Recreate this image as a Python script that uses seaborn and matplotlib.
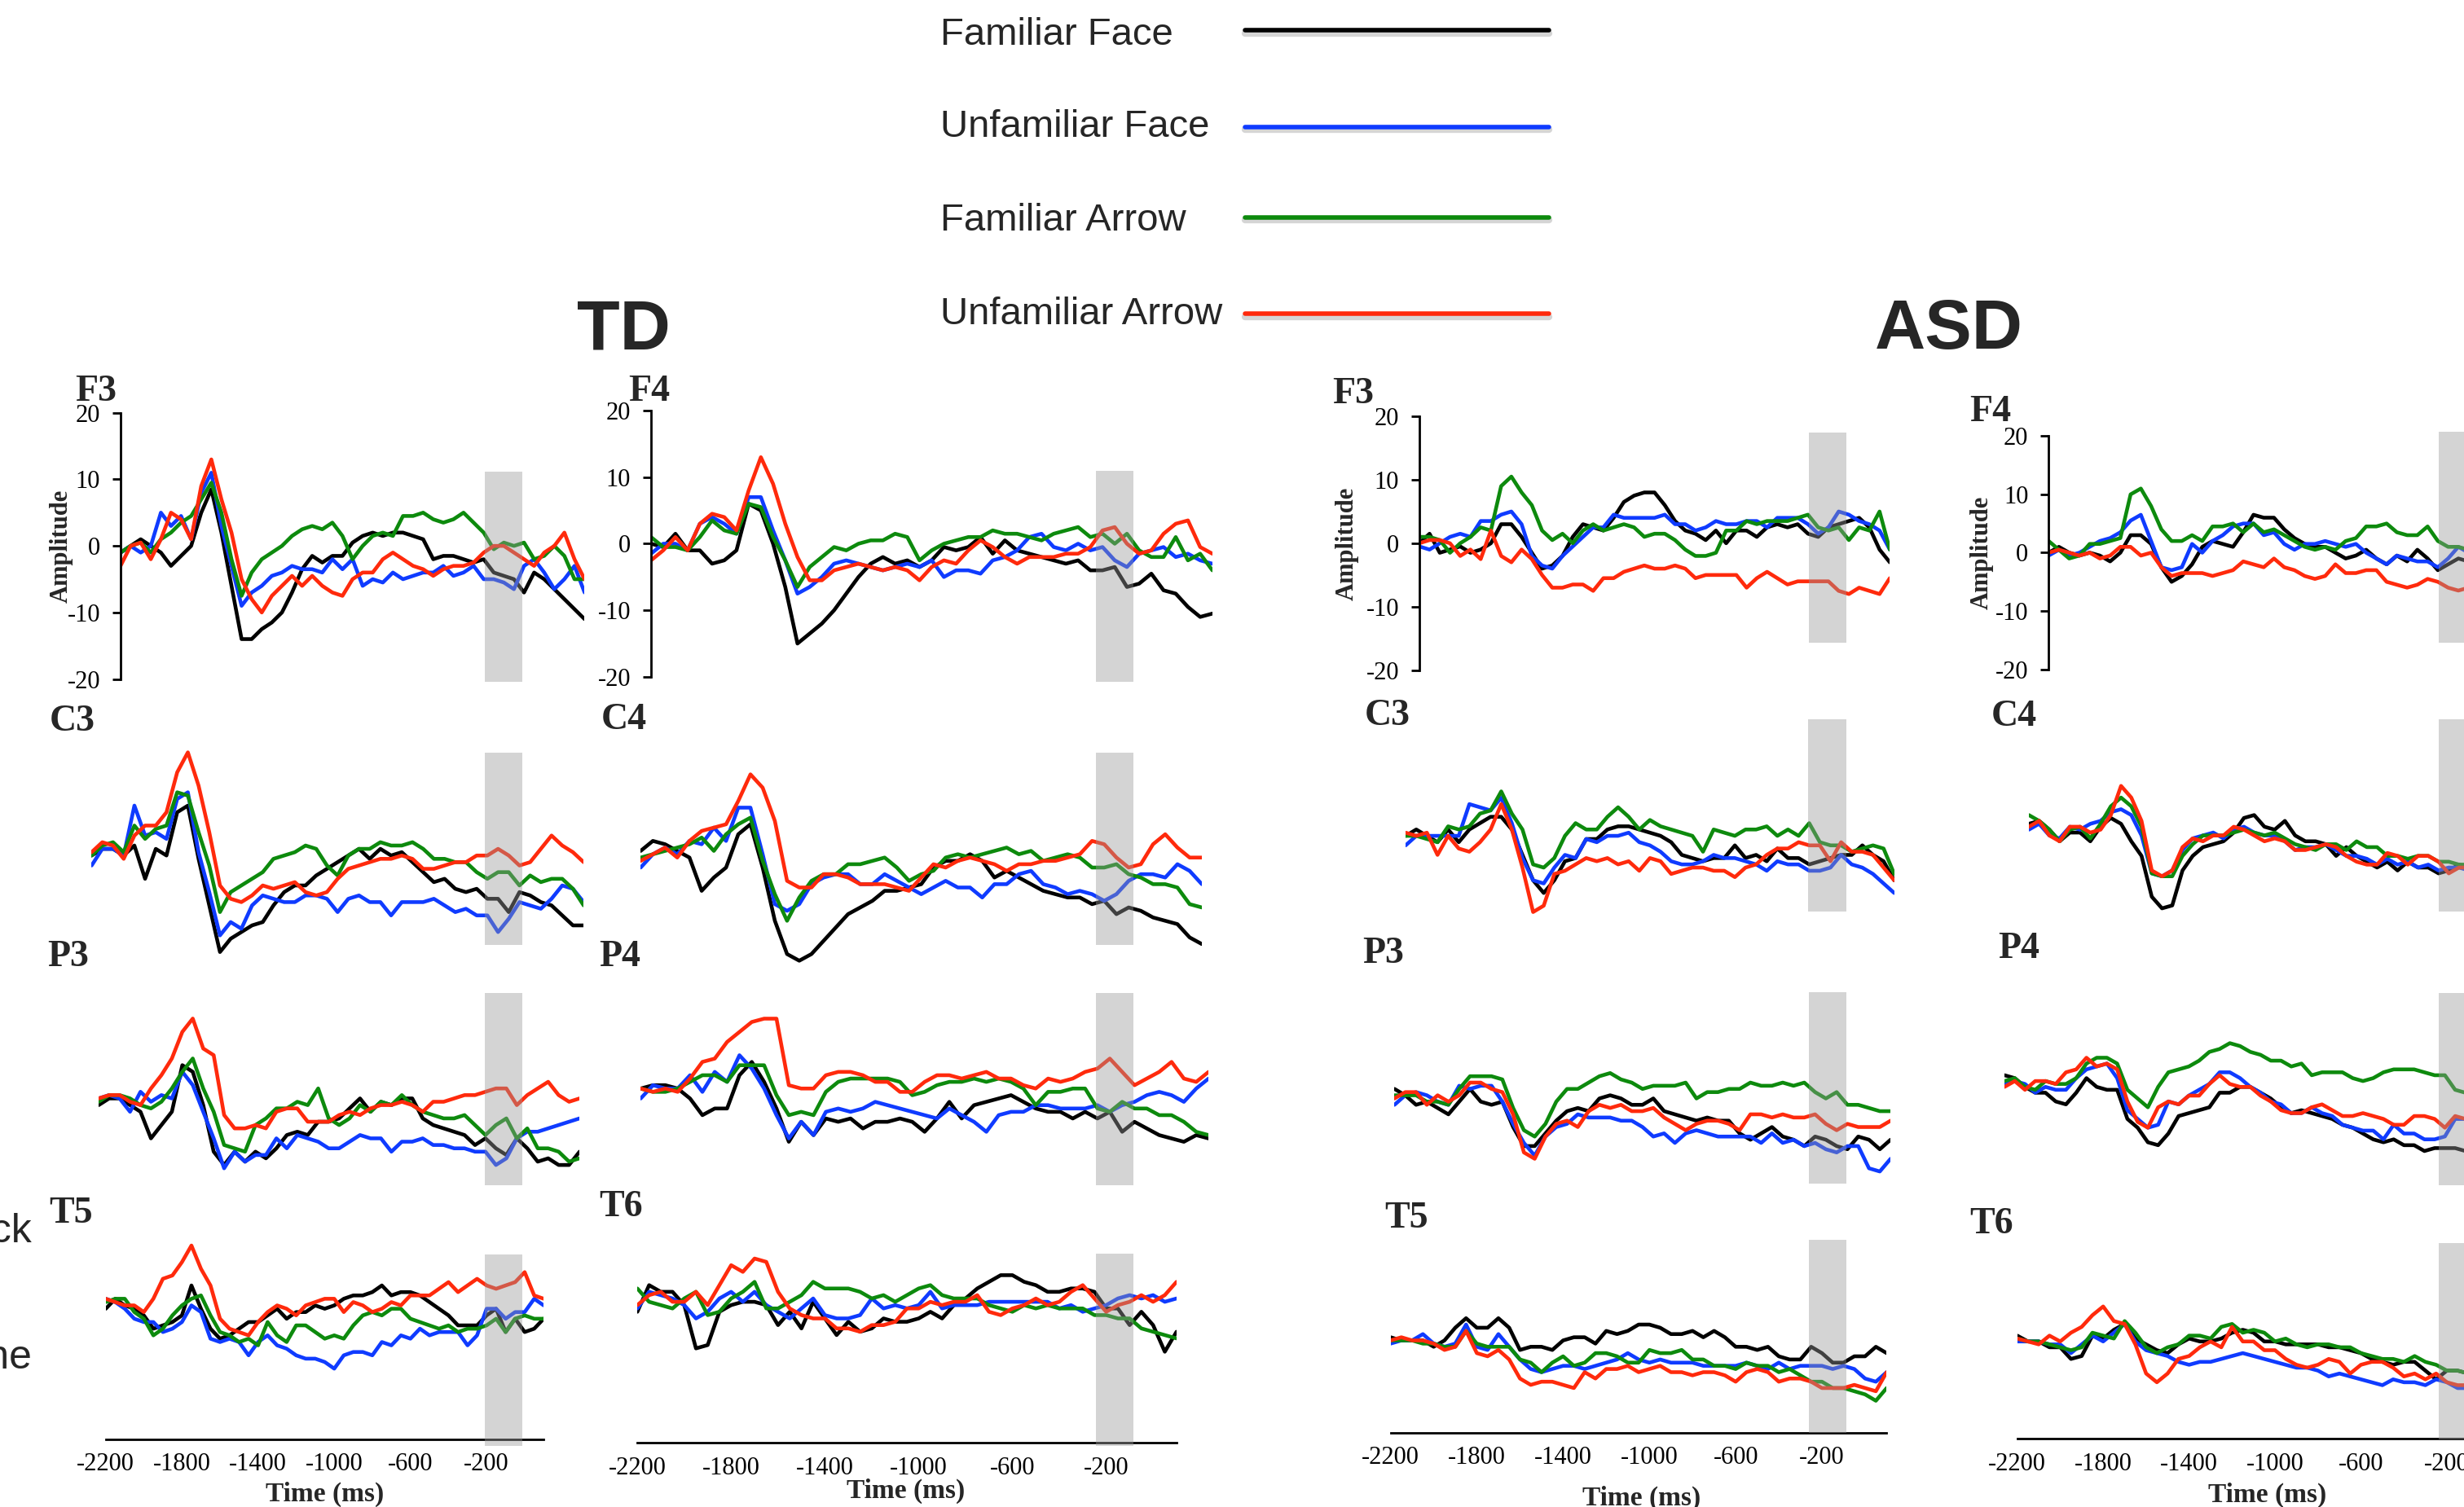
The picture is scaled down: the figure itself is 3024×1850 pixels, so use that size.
import pandas as pd
import matplotlib.pyplot as plt
from matplotlib.lines import Line2D
import seaborn as sns

# ---------------- data ----------------
time_ms = [-2200, -2150, -2100, -2050, -2000, -1950, -1900, -1850, -1800, -1750,
           -1700, -1650, -1600, -1550, -1500, -1450, -1400, -1350, -1300, -1250,
           -1200, -1150, -1100, -1050, -1000, -950, -900, -850, -800, -750,
           -700, -650, -600, -550, -500, -450, -400, -350, -300, -250,
           -200, -150, -100, -50, 0, 50, 100]

conditions = ["Familiar Face", "Unfamiliar Face", "Familiar Arrow", "Unfamiliar Arrow"]
colors = ["#000000", "#0f3bff", "#0d8a0d", "#ff2a0c"]

# TD group
td_f3_ff = [-1, 0, 1, 0, -1, -3, -1.5, 0, 5, 8.5,
            2, -6, -14, -14, -12.5, -11.5, -10, -7, -3.5, -1.5,
            -2.5, -1.5, -1.5, 0.5, 1.5, 2, 1.5, 2, 2, 1.5,
            1, -2, -1.5, -1.5, -2, -2.5, -2, -4, -4.5, -5,
            -7, -4, -5, -6.5, -8, -9.5, -11]
td_f3_uf = [-1, 0, -1, 0, 5, 3, 4.5, 1, 8, 11,
            3, -3, -9, -7, -6, -4.5, -4, -3, -3.5, -3.5,
            -4, -2, -3.5, -2, -6, -5, -5.5, -4, -5, -4.5,
            -4, -4, -3, -4.5, -4, -3, -5, -5, -5.5, -6.5,
            -3, -2, -4, -6.5, -5, -3, -7]
td_f3_fa = [-1, 0, 0.5, -1, 1, 2, 3.5, 4.5, 7, 9.5,
            5, -2, -7.5, -4, -2, -1, 0, 1.5, 2.5, 3,
            2.5, 3.5, 1.5, -2, 0, 1.5, 2, 1.5, 4.5, 4.5,
            5, 4, 3.5, 4, 5, 3.5, 2, -0.5, 0.5, 0,
            0.5, -2, -1.5, 0, -1.5, -5, -5]
td_f3_ua = [-3, 0, 0.5, -2, 1, 5, 4, 1, 9, 13,
            7, 2, -5, -8, -10, -7.5, -6, -4.5, -6, -4.5,
            -6, -7, -7.5, -5, -4, -4, -2, -1, -2, -3,
            -3.5, -4.5, -3.5, -3, -3, -2.5, -1, 0, 0, -1,
            -2, -3, -1, 0, 2, -2, -5]

td_c3_ff = [-0.5, 0.5, 0.5, -0.5, 1, -4, 0.5, -0.5, 6, 7,
            -1, -8, -15, -13, -12, -11, -10.5, -8, -6, -5,
            -5, -3.5, -2.5, -1.5, -0.5, 0.5, -1, 0.5, -0.5, 0,
            -1.5, -3, -4.5, -4, -5.5, -6, -5.5, -7, -7, -9,
            -6, -6.5, -7.5, -8, -9.5, -11, -11]
td_c3_uf = [-2, 0.5, 0.5, -0.5, 7, 2.5, 3, 2, 8, 9,
            0, -6, -12.5, -10.5, -11.5, -8, -6.5, -7, -7.5, -7.5,
            -6.5, -6.5, -7, -9, -7, -6.5, -7.5, -7.5, -9.5, -7.5,
            -7.5, -7.5, -7, -8, -9, -8.5, -9.5, -9.5, -12, -10,
            -7.5, -8, -8.5, -7, -5, -5.5, -7.5]
td_c3_fa = [-0.5, 1, 1.5, 0, 4, 2, 3.5, 4, 9, 8.5,
            3, -2, -9, -6, -5, -4, -3, -1, -0.5, 0,
            1, 0.5, -2, -3.5, -0.5, 0.5, 0.5, 1.5, 1, 1,
            1.5, 0.5, -1, -1, -1.5, -1.5, -3, -4, -3, -3,
            -5, -3.5, -4.5, -4, -4, -5.5, -8]
td_c3_ua = [0, 1.5, 1, -1, 2.5, 4, 4, 6, 12, 15,
            10, 3, -5, -7, -7.5, -6.5, -5, -5.5, -5, -4.5,
            -6, -6.5, -6, -4, -2.5, -2, -1.5, -1, -1, -0.5,
            -1, -2.5, -2.5, -2, -1.5, -1.5, -0.5, -0.5, 0.5, -0.5,
            -2, -1.5, 0.5, 2.5, 1, 0, -1.5]

td_p3_ff = [-1, 0, 0, -1, -2, -6, -4, -2, 5, 4,
            -1, -8, -10, -8, -9.5, -8, -9, -7.5, -5.5, -5,
            -5.5, -3.5, -3.5, -3, -1.5, 0, -2, -0.5, -1, 0,
            0, -3, -4, -4.5, -5, -5.5, -7, -6, -7.5, -8.5,
            -6, -7.5, -9.5, -9, -10, -10, -8]
td_p3_uf = [0, 0.5, 0, -2, 1, -0.5, 0.5, 0, 4, 2,
            -2, -6, -10.5, -8, -9.5, -8.5, -8.5, -6, -7.5, -5.5,
            -6, -6.5, -7.5, -7.5, -6.5, -5.5, -6, -6, -8, -6.5,
            -6.5, -6, -7, -7, -7.5, -7.5, -8, -8, -10, -9,
            -6, -5, -5, -4.5, -4, -3.5, -3]
td_p3_fa = [-0.5, 0.5, 0.5, 0, -1, -1.5, -0.5, 1.5, 4, 6,
            1.5, -2, -7, -7.5, -8, -4, -3, -1.5, -1.5, -0.5,
            -1, 1.5, -3, -4, -3, -1, -2, -0.5, -1, 0.5,
            -1, -2, -2.5, -3, -3, -2.5, -4, -5.5, -4, -3,
            -6, -4.5, -7.5, -7.5, -8, -9.5, -9]
td_p3_ua = [0, 0.5, 0.5, -0.5, -1, 1.5, 3.5, 6, 10, 12,
            7.5, 6.5, -2.5, -4.5, -4.5, -4, -4.5, -2, -1.5, -1.5,
            -3.5, -3.5, -3.5, -2.5, -2, -2.5, -1.5, -1, -1, -0.5,
            -1, -2, -0.5, -0.5, 0, 0.5, 0.5, 1, 1.5, 1.5,
            -1, 0.5, 1.5, 2.5, 0.5, -0.5, 0]

td_t5_ff = [-1, 0.5, -0.5, -1, -2, -4, -3.5, -3, -2, 2.5,
            -1, -4, -5.5, -5, -4, -3, -3, -2, -1, -2.5,
            -1.5, -1.5, -0.5, -1, -0.5, 0.5, 1, 1, 1.5, 2.5,
            1, 1.5, 1.5, 1, 0, -1, -2, -3.5, -3.5, -3.5,
            -2, -1, -4.5, -2.5, -4.5, -4, -2.5]
td_t5_uf = [0.5, 0, -1, -2.5, -3, -3, -4.5, -4, -3, -0.5,
            -1.5, -5.5, -6, -5.5, -6, -8, -6, -5, -6.5, -7,
            -8, -8.5, -8.5, -9, -10, -8, -7.5, -7.5, -8, -6,
            -6.5, -5, -5.5, -4, -5, -4.5, -4.5, -4.5, -6.5, -5,
            -1, -1, -2.5, -1.5, -1.5, 0.5, -0.5]
td_t5_fa = [0, 0.5, 0.5, -1.5, -2.5, -5, -4, -2, -0.5, 0.5,
            1, -2, -4.5, -5, -6, -5.5, -6.5, -3, -5, -6,
            -3.5, -3.5, -4.5, -5.5, -5, -5.5, -3.5, -2, -1.5, -2,
            -1, -1, -2.5, -3, -3.5, -4, -3.5, -4.5, -4, -4,
            -3.5, -2.5, -4.5, -2.5, -2, -2.5, -2.5]
td_t5_ua = [0.5, 0, -0.5, -0.5, -1.5, 0.5, 3.5, 4, 6, 8.5,
            5, 2.5, -2.5, -4, -4.5, -5, -3, -1.5, -0.5, -1,
            -2, -0.5, 0, 0.5, 0.5, -1.5, 0, -0.5, -1.5, -1,
            0, -0.5, 1, 1, 1, 2, 3, 1.5, 2.5, 3.5,
            2.5, 2, 2.5, 3, 4.5, 1, 0.5]

td_f4_ff = [0, -0.5, 1.5, -1, -1, -3, -2.5, -1, 6, 5,
            0, -6.5, -15, -13.5, -12, -10, -7.5, -5, -3, -2,
            -3, -2.5, -3.5, -2.5, -0.5, -1, -0.5, 1, -1.5, 0.5,
            -1, -1.5, -2, -2.5, -3, -2.5, -4, -4, -3.5, -6.5,
            -6, -4.5, -7, -7.5, -9.5, -11, -10.5]
td_f4_uf = [-1.5, 0, 0, -1, 3, 4, 3, 1.5, 7, 7,
            2, -2.5, -7.5, -6.5, -5, -3, -2.5, -3, -3.5, -4,
            -3.5, -3, -3.5, -2.5, -5, -4, -4, -4.5, -2.5, -2,
            -1, 1, 1.5, -0.5, -1, 0, -1, -0.5, -2.5, -3.5,
            -1.5, -1, -0.5, -2, -1.5, -2.5, -3]
td_f4_fa = [1, -0.5, -0.5, -1, 1, 3.5, 2, 1.5, 6, 5.5,
            1, -2.5, -6.5, -3.5, -2, -0.5, -1, 0, 0.5, 0.5,
            1.5, 1, -2.5, -1, 0, 0.5, 1, 1, 2, 1.5,
            1.5, 1, 0.5, 1.5, 2, 2.5, 1, 1.5, 0, 1.5,
            -1, -2, -2, 1, -2.5, -1.5, -4]
td_f4_ua = [-2.5, -1, 1, -1, 3, 4.5, 4, 2, 8, 13,
            9, 3, -2, -5.5, -5.5, -4, -3.5, -3, -3.5, -4,
            -3.5, -4, -5.5, -3.5, -2.5, -3, -1, 0.5, -0.5, -2,
            -3, -2, -2, -2, -1.5, -1.5, -0.5, 2, 2.5, 0,
            -1.5, -1, 1.5, 3, 3.5, -0.5, -1.5]

td_c4_ff = [0.5, 2, 1.5, 0.5, -0.5, -5.5, -3.5, -2, 3, 4.5,
            -2, -10, -15, -16, -15, -13, -11, -9, -8, -7,
            -5.5, -5.5, -5, -4.5, -2, -1, -1, 0, -1, -3.5,
            -2.5, -3.5, -4.5, -5.5, -6, -6.5, -6.5, -7.5, -7, -9,
            -8, -8.5, -9.5, -10, -10.5, -12.5, -13.5]
td_c4_uf = [-2, 0, 1, 0, 2, 1.5, 4, 2, 7, 7,
            0, -7.5, -8.5, -7.5, -4.5, -3.5, -3, -3, -4.5, -4.5,
            -3, -4, -5, -6, -5, -4, -5, -5, -6.5, -4.5,
            -4.5, -3, -2.5, -4.5, -5, -6, -5.5, -6, -7, -6,
            -4, -3, -3, -3.5, -1.5, -2.5, -4.5]
td_c4_fa = [-0.5, 0, 0.5, 1, 1.5, 2.5, 0.5, 3, 4.5, 5.5,
            -1, -6, -10, -6.5, -4, -3, -3, -1.5, -1.5, -1,
            -0.5, -2, -4, -3, -2.5, -0.5, 0, -0.5, 0, 0.5,
            1, 0, 0.5, -1, -0.5, 0, -0.5, -2, -2, -1.5,
            -3, -3.5, -4.5, -4.5, -5, -7.5, -8]
td_c4_ua = [-1, 0, 1, -0.5, 2, 3.5, 4, 4.5, 8, 12,
            10, 5, -4, -5, -5, -3, -3, -3.5, -4.5, -4.5,
            -4.5, -5, -5.5, -3.5, -1.5, -2, -1, -0.5, -1, -1.5,
            -2.5, -1.5, -1.5, -1, -1, -0.5, 0, 2, 1.5, -0.5,
            -2, -1.5, 1.5, 3, 1, -0.5, -0.5]

td_p4_ff = [0, 0.5, 0.5, 0, -1.5, -4, -3, -3, 2, 4,
            1, -3, -8, -5, -7, -4.5, -5, -4.5, -6, -5,
            -5, -4.5, -5, -6.5, -4.5, -2, -4.5, -2.5, -2, -1.5,
            -1, -2, -3, -3.5, -3.5, -4.5, -3.5, -4.5, -3.5, -6.5,
            -5, -6, -7, -7.5, -8, -7, -7.5]
td_p4_uf = [-1.5, 0.5, 0, 0, 2, -0.5, 2.5, 1, 5, 3,
            0, -4, -7.5, -5, -7, -3.5, -3, -3.5, -3, -2,
            -2.5, -3, -3.5, -4, -4.5, -3, -4, -5, -6.5, -4,
            -3.5, -3.5, -2.5, -2.5, -3, -3, -3, -2.5, -3.5, -2.5,
            -2, -1, -0.5, -1, -2, 0, 1.5]
td_p4_fa = [0, -0.5, -0.5, 0, 1, 2, 2, 1, 3.5, 3.5,
            3.5, -1, -4, -3.5, -4, -0.5, 1, 1.5, 1.5, 1.5,
            1.5, 1, -1, -0.5, 0.5, 1, 1, 1.5, 1, 1.5,
            1, 0, -2.5, -0.5, -0.5, 0, 0, -3, -3.5, -2,
            -3, -3, -4, -4, -5, -6.5, -7]
td_p4_ua = [0, -0.5, 0, -0.5, 1.5, 4, 4.5, 7, 8.5, 10,
            10.5, 10.5, 0.5, 0, 0, 2, 2.5, 2.5, 2, 1,
            1, -0.5, -0.5, 1, 2, 2, 1.5, 2, 2.5, 1.5,
            1.5, 0.5, 0, 1.5, 1, 1.5, 2.5, 3, 4.5, 2.5,
            0.5, 1.5, 2.5, 4, 1.5, 1, 2.5]

td_t6_ff = [-2, 2, 1, 1, -1, -7.5, -7, -2, -1, -0.5,
            -0.5, -1, -4, -2, -4.5, -0.5, -3, -5.5, -3.5, -5,
            -4.5, -3, -3.5, -3.5, -3, -2, -3, -1, 0, 1.5,
            2.5, 3.5, 3.5, 2.5, 2, 1, 1, 1.5, 1.5, 1,
            -1.5, -1.5, -4, -2, -4, -8, -5]
td_t6_uf = [-1.5, 1, 0.5, 0, -1, -3, -2, 0, 1, -0.5,
            1, -1, -2, -3, -1.5, 0, -2.5, -3, -3, -2.5,
            0, -1.5, -1, -1.5, -1, 1, -1.5, -1, -1, -1,
            -0.5, -0.5, -0.5, -0.5, -0.5, -0.5, -1.5, -1, -2, -1.5,
            -1, 0, 0.5, 0, 0.5, -0.5, 0]
td_t6_fa = [1.5, -0.5, -1, -1.5, 0, 1, -2.5, -2, 0, 1,
            2.5, -1.5, -1.5, -0.5, 0.5, 2.5, 1.5, 1.5, 1.5, 1,
            0, 0.5, -0.5, 0.5, 1.5, 2, 0.5, 0, 0, 0,
            -1, -1.5, -2, -1, -1.5, -1, -1.5, -1.5, -1.5, -2.5,
            -2.5, -3, -3, -4.5, -5, -5.5, -6]
td_t6_ua = [-1, 0.5, 1, -0.5, -0.5, 1, -1, 2, 5, 4,
            6, 5.5, 1, -1.5, -2.5, -3, -3, -4.5, -4.5, -5,
            -4, -4, -3.5, -1.5, -1.5, -0.5, -1, -0.5, -0.5, 0.5,
            -2, -2.5, -1.5, -1, 0, -1, -0.5, 1, 2, 0,
            -2, -1, -0.5, 0.5, -0.5, 0.5, 2.5]

# ASD group
asd_f3_ff = [0, 1.5, -1.5, -1, -0.5, -1.5, -1, 0, 3, 3,
             1, -1.5, -4, -3.5, -2, 1, 3, 2.5, 2, 4,
             6.5, 7.5, 8, 8, 6, 3.5, 2, 1.5, 0.5, 2,
             0, 2, 2, 1, 2.5, 3, 2.5, 3, 1.5, 1,
             2.5, 3, 3.5, 4, 2.5, -1, -3]
asd_f3_uf = [-0.5, -1, 0, 1, 1.5, 1, 3.5, 3.5, 4.5, 5,
             3, -2, -3.5, -4, -2, -0.5, 1, 2.5, 2.5, 4.5,
             4, 4, 4, 4, 4.5, 3, 3, 2, 2.5, 3.5,
             3, 3, 3.5, 3.5, 2.5, 4, 4, 4, 3, 1.5,
             2.5, 5, 4.5, 3.5, 3, 2, -1]
asd_f3_fa = [1, 1, 0.5, -1.5, 0, 1, 2.5, 2, 9, 10.5,
             8, 6, 2, 0.5, 1.5, 0, 2, 3, 2, 2.5,
             3, 2.5, 1, 1.5, 1.5, 0.5, -1, -2, -2, -1.5,
             2, 2, 3.5, 3, 3.5, 3.5, 3.5, 4, 4.5, 2.5,
             2, 2.5, 0.5, 2.5, 2, 5, -1]
asd_f3_ua = [0, 0.5, 0.5, 0, -2, -1, -2.5, 2, -2, -3,
             -1, -2.5, -5, -7, -7, -6.5, -6.5, -7.5, -5.5, -5.5,
             -4.5, -4, -3.5, -4, -4, -3.5, -4, -5.5, -5, -5,
             -5, -5, -7, -5.5, -4.5, -5.5, -6.5, -6, -6, -6,
             -6, -7.5, -8, -7, -7.5, -8, -5.5]

asd_c3_ff = [0, 1, 0, -1, 1, -1, 1, 2, 3, 3,
             1, -3, -7, -9, -7, -4, -3.5, -0.5, -0.5, 1,
             1.5, 1.5, 1, 0.5, 0, -1, -3, -3.5, -4, -3.5,
             -3.5, -1.5, -3.5, -3, -4, -2, -3.5, -3.5, -4.5, -4,
             -3.5, -3, -3, -1.5, -3, -4, -7]
asd_c3_uf = [-1.5, 0, 0, 0, 0, 0, 5, 4.5, 4, 6,
             2, -3.5, -7, -7.5, -5, -3, -3.5, -0.5, -1, 0,
             0, 0.5, -1, -1.5, -2.5, -4, -4.5, -4.5, -4, -3,
             -3.5, -3.5, -4, -4.5, -5.5, -4, -4.5, -4.5, -5.5, -5.5,
             -5, -3, -4.5, -5, -6, -7.5, -9]
asd_c3_fa = [0, 0, -0.5, -1, 1.5, 1, 1.5, 3.5, 4, 7,
             3.5, 1, -4.5, -5, -3.5, 0, 2, 1, 1, 3,
             4.5, 3, 1, 2.5, 1.5, 1, 0.5, 0, -2.5, 1,
             0.5, 0, 1, 1, 1.5, 0, 1, 0, 2, -1,
             -1.5, -1.5, -2.5, -2, -1.5, -2, -6]
asd_c3_ua = [0.5, 0, 0.5, -3, 0, -2, -2.5, -1, 1, 5,
             1, -5, -12, -11, -6, -5.5, -4.5, -3.5, -4, -3.5,
             -4.5, -4, -5.5, -3.5, -4, -6, -5.5, -5, -5, -5.5,
             -5.5, -6.5, -5, -4.5, -3, -2, -2, -1, -1.5, -1.5,
             -4, -1, -2.5, -2.5, -3, -5, -7]

asd_p3_ff = [1, 0, -1.5, -1, -2, -3, -1, 1, -1, -1.5,
             -1, -5, -8, -8, -6, -4, -2.5, -2, -2.5, -0.5,
             0, -0.5, -1.5, -1.5, -0.5, -2.5, -3, -3.5, -4, -3.5,
             -4, -4, -6, -7, -6, -5, -6.5, -7, -8, -6.5,
             -7, -8, -8.5, -6.5, -7, -8.5, -7]
asd_p3_uf = [-1.5, 0, 0.5, 0, -1, -1.5, 1.5, 1, 1.5, 1.5,
             -1, -4.5, -7.5, -9.5, -6.5, -5, -4.5, -3, -3.5, -3.5,
             -3.5, -4, -4, -5, -6.5, -6, -7.5, -6, -5.5, -6,
             -6.5, -6.5, -6.5, -6.5, -7.5, -6, -7.5, -7, -8, -7.5,
             -8.5, -9, -8, -8, -11.5, -12, -10]
asd_p3_fa = [0, 0, 0, -1, -1, -1.5, 1, 3, 3, 3,
             2.5, -2, -5.5, -6.5, -4.5, -1, 1, 1, 2, 3,
             3.5, 2.5, 2, 1, 1.5, 1.5, 1.5, 2, -0.5, 0.5,
             0.5, 1, 1, 2, 1.5, 1.5, 2, 1.5, 2, 0.5,
             -0.5, 0.5, -1.5, -1.5, -2, -2.5, -2.5]
asd_p3_ua = [-0.5, 0.5, 0.5, -1.5, 0, -1, 0, 2, 2, 1,
             0.5, -3, -9, -10, -6.5, -4.5, -4, -5, -2.5, -1.5,
             -2, -1.5, -2.5, -2.5, -2, -3.5, -4.5, -5.5, -4.5, -4,
             -4, -4.5, -5.5, -3, -3, -3.5, -3, -3.5, -3.5, -3,
             -4.5, -5.5, -4.5, -5, -5, -5, -4]

asd_t5_ff = [0.5, 0, 0, 0, -1, 0, 2, 3.5, 2, 2,
             3.5, 2, -1.5, -1, -1, -1.5, 0, 0.5, 0.5, -0.5,
             1.5, 1, 1.5, 2.5, 2.5, 2, 1, 1, 1.5, 0.5,
             1.5, 0.5, -1, -1, -1.5, -1, -2.5, -3, -3, -1,
             -2, -3.5, -3.5, -2.5, -2.5, -1, -2]
asd_t5_uf = [-0.5, 0, 0, 1, -0.5, -1, -0.5, 2.5, -1, -1.5,
             1, -1, -3, -4.5, -5, -4.5, -4, -4, -4.5, -4,
             -3.5, -3, -2, -3, -3.5, -3, -3.5, -3.5, -3.5, -4,
             -4, -4, -4, -3.5, -4, -4.5, -3.5, -4.5, -4, -4,
             -4, -4.5, -4, -4.5, -6, -6.5, -5]
asd_t5_fa = [0, 0, 0, -0.5, -0.5, -1, -1, 1.5, -0.5, -1,
             -1, -1, -3, -3.5, -5, -3.5, -2.5, -4, -3.5, -2,
             -2, -2.5, -3.5, -3.5, -1.5, -2, -2, -1.5, -3, -3,
             -4, -4, -4.5, -3.5, -4, -4, -5, -4.5, -5.5, -6.5,
             -6.5, -7.5, -7.5, -8, -8.5, -9.5, -7.5]
asd_t5_ua = [0, 0.5, 0, 0, -0.5, -1.5, -1, 1.5, -2, -2.5,
             -1.5, -3, -6, -7, -6.5, -6.5, -7, -7.5, -5, -6,
             -4.5, -4.5, -4, -5, -4.5, -4, -5, -5, -5.5, -5,
             -5, -5.5, -6.5, -5, -4.5, -5, -6.5, -6, -6, -6.5,
             -7.5, -7.5, -7.5, -7, -7.5, -8, -5]

asd_f4_ff = [0, 1, 0, -0.5, 0, -0.5, -1.5, 0, 3, 3,
             1.5, -2.5, -5, -4, -2, 1, 2, 1.5, 1, 3.5,
             6.5, 6, 6, 4, 2.5, 1.5, 1, 1, 0, -1,
             -0.5, 0.5, -1, -2, -0.5, -1.5, 0.5, -1, -3, -2,
             -1, -1.5, -2, -2, -2.5, -3, -3]
asd_f4_uf = [-0.5, 0.5, -0.5, 0, 1, 2, 2.5, 3.5, 5.5, 6.5,
             2, -2.5, -3, -2.5, 1.5, 0, 2, 3, 4.5, 5,
             5, 3, 3.5, 1.5, 0.5, 1.5, 1.5, 2, 1.5, 1,
             1.5, 0, -1, -2, -0.5, -1, -1.5, -1.5, -2.5, -1,
             1, 0, -0.5, -1, -1.5, -2, -2]
asd_f4_fa = [2, 0.5, -1, -0.5, 1.5, 1.5, 2, 2.5, 10, 11,
             8, 4, 2, 2, 3, 2, 4.5, 4.5, 5, 3.5,
             5, 3.5, 4, 3, 2, 1, 0.5, 1, 0.5, 2,
             2.5, 4.5, 4.5, 5, 3.5, 3, 3, 4.5, 2, 1,
             1, 0.5, 0.5, 0, -0.5, -1, -1]
asd_f4_ua = [0, 0.5, 0, -0.5, 0, -1, -0.5, 1, 1, -0.5,
             0, -2.5, -4, -3.5, -3.5, -3.5, -4, -3.5, -3, -1.5,
             -2, -2.5, -1, -2.5, -3, -4, -4.5, -4, -2, -3.5,
             -3.5, -3, -3, -5, -5.5, -6, -5.5, -4.5, -5, -6,
             -6.5, -6, -6, -6.5, -6.5, -7, -7]

asd_c4_ff = [0.5, 1, -0.5, -2.5, -1, -1, -2.5, 0, 1.5, 0.5,
             -2.5, -5, -12, -14, -13.5, -7.5, -5, -3.5, -3, -2.5,
             -1, 1.5, 2, 0, -0.5, 1, -1.5, -2.5, -2.5, -3,
             -5, -3.5, -5, -6, -7, -6, -7.5, -6, -7, -7,
             -8, -7.5, -6.5, -7, -7, -7.5, -8]
asd_c4_uf = [-0.5, 0.5, -1.5, -2, 0, -0.5, 0.5, 1, 2.5, 3,
             2, -1.5, -8, -8.5, -7.5, -4, -2, -1.5, -1, -2,
             -0.5, 0, -1, -1.5, -1.5, -2.5, -4, -3.5, -3.5, -3,
             -4, -5, -5, -5.5, -6.5, -5.5, -6.5, -6, -7, -6.5,
             -7.5, -7, -7, -7.5, -7.5, -8, -8]
asd_c4_fa = [2, 1, -0.5, -2.5, -0.5, 0, -2, 0.5, 3.5, 5,
             3.5, 0, -8, -8.5, -8.5, -5, -3, -1.5, -1.5, -1.5,
             -1, -0.5, -1, -1.5, -1, -2, -3, -3.5, -4, -3,
             -3, -4, -2.5, -3.5, -3.5, -5, -5, -5.5, -5, -5,
             -6, -6, -6.5, -6.5, -7, -7, -7.5]
asd_c4_ua = [0, 1, -1.5, -2.5, 0, 0, -1, -0.5, 2, 7,
             5, 1, -7.5, -8.5, -7.5, -3.5, -2, -2.5, -1.5, -1.5,
             0, -0.5, -1.5, -2.5, -2, -2.5, -4, -4, -3.5, -3,
             -3.5, -5, -6, -6.5, -6.5, -4.5, -5, -6.5, -5, -5,
             -6, -8, -7, -7, -7, -7.5, -8]

asd_p4_ff = [1.5, 1, -0.5, -1.5, -1.5, -3, -3.5, -1.5, 1, -0.5,
             -1, -1, -6, -7.5, -10, -10.5, -8.5, -5.5, -5, -4.5,
             -4, -1.5, -1.5, -0.5, -0.5, -1.5, -2.5, -4, -5, -4.5,
             -5, -5.5, -6, -7, -7.5, -8.5, -9.5, -10, -9.5, -10.5,
             -10.5, -11.5, -11, -11, -11, -11.5, -11.5]
asd_p4_uf = [0, 0.5, 0, -1.5, -0.5, -1, -1, 1, 2.5, 3,
             3.5, 1, -4.5, -6, -7.5, -7, -3, -3.5, -2, -1,
             0, 2, 2, 1, -0.5, -1.5, -3, -3.5, -5, -5,
             -4, -5, -5.5, -7, -7.5, -8, -8, -9.5, -7, -8.5,
             -8.5, -9.5, -9.5, -9, -6, -6, -6]
asd_p4_fa = [0.5, 1, -0.5, -1, 0.5, 0, 0, 1, 3.5, 4.5,
             4.5, 3.5, -1, -2.5, -4, -0.5, 2, 2.5, 3, 4,
             5.5, 6, 7, 6.5, 5.5, 5, 4, 4, 3, 3.5,
             1.5, 2, 2, 2, 1, 0.5, 1, 2, 2.5, 2.5,
             2.5, 2, 1.5, 1.5, -1, -1.5, -1.5]
asd_p4_ua = [-0.5, 0.5, -1, 0.5, 0.5, 0, 2, 2.5, 4.5, 3,
             3.5, 2.5, -3, -6.5, -7.5, -4, -3, -3.5, -2, -2,
             0, 1.5, 0, -0.5, -0.5, -2, -3, -4.5, -5, -5,
             -4, -3.5, -4.5, -5.5, -5.5, -5, -5.5, -6, -7, -7,
             -5.5, -5.5, -6, -7.5, -5.5, -6, -6]

asd_t6_ff = [0.5, -0.5, -0.5, -1.5, -1.5, -3.5, -3, 0.5, 0, 1.5,
             2.5, 0, -1, -2, -2.5, -1, 0, -0.5, -0.5, 0,
             1, 1.5, 1, -0.5, -0.5, -1, -1, -1, -1, -1.5,
             -1.5, -2, -2.5, -3.5, -4, -4.5, -4, -4, -5.5, -7,
             -5.5, -5.5, -6, -6, -6.5, -6.5, -7]
asd_t6_uf = [-0.5, -0.5, -0.5, -1, -1, -2.5, -1, 0.5, -0.5, 1,
             2.5, -0.5, -2, -2.5, -3, -4, -4.5, -4, -4, -3.5,
             -3, -2.5, -3, -3.5, -4, -4.5, -5, -5, -5.5, -6.5,
             -6, -6.5, -7, -7.5, -8, -7, -7.5, -7.5, -8, -7,
             -7.5, -8.5, -8.5, -9, -9, -9, -9.5]
asd_t6_fa = [0, -0.5, -0.5, -1, -1.5, -2, -1.5, 1, 0.5, 0,
             3, 1, -1.5, -2.5, -1.5, -1, 0.5, 0.5, 0, 2,
             2.5, 1, 1.5, 1, -0.5, 0, -1, -1.5, -1, -1,
             -1.5, -1.5, -2.5, -3, -3.5, -3.5, -4, -3, -4, -4.5,
             -5.5, -5.5, -6, -6, -6.5, -6.5, -7]
asd_t6_ua = [0, -0.5, -1, 0.5, -0.5, 1, 2, 4, 5.5, 3,
             2.5, -1, -6, -7.5, -6, -3.5, -3, -1.5, -0.5, -1.5,
             2, -0.5, -0.5, -2, -2, -3.5, -4.5, -5, -4.5, -3.5,
             -4, -6, -4.5, -4, -4, -5, -6.5, -6, -7, -6,
             -7.5, -8, -8, -8, -8.5, -8.5, -9]

# ---------------- layout (pixels of the 1568 x 959 reference) ----------------
W, H = 1568, 959
YLIM = 23

panels = [
    # TD, left column
    dict(name="F3", series=[td_f3_ff, td_f3_uf, td_f3_fa, td_f3_ua], left=76.7, right=372.0, zero=347.4,
         ppu=4.235, band=(-394, -208), band_amp=(-20.4, 11.2), lab=(47.8, 254.8), role="top", amp_off=37.7),
    dict(name="C3", series=[td_c3_ff, td_c3_uf, td_c3_fa, td_c3_ua], left=58.3, right=371.4, zero=542.3,
         ppu=4.235, band=(-361, -186), band_amp=(-13.9, 14.9), lab=(31.4, 465.0), role="mid"),
    dict(name="P3", series=[td_p3_ff, td_p3_uf, td_p3_fa, td_p3_ua], left=62.8, right=368.8, zero=699.0,
         ppu=4.235, band=(-352, -173), band_amp=(-13.0, 15.8), lab=(30.1, 615.0), role="mid"),
    dict(name="T5", series=[td_t5_ff, td_t5_uf, td_t5_fa, td_t5_ua], left=67.3, right=346.0, zero=828.6,
         ppu=4.235, band=(-209, -11), band_amp=(-21.6, 7.2), lab=(31.4, 778.0), role="bottom",
         axis_at=-20.6, tlab=(206.8, 955.0)),
    # TD, right column
    dict(name="F4", series=[td_f4_ff, td_f4_uf, td_f4_fa, td_f4_ua], left=414.3, right=771.5, zero=346.0,
         ppu=4.235, band=(-377, -224), band_amp=(-20.8, 10.9), lab=(399.8, 255.0), role="top"),
    dict(name="C4", series=[td_c4_ff, td_c4_uf, td_c4_fa, td_c4_ua], left=407.7, right=764.8, zero=543.6,
         ppu=4.235, band=(-334, -181), band_amp=(-13.6, 15.3), lab=(382.6, 463.8), role="mid"),
    dict(name="P4", series=[td_p4_ff, td_p4_uf, td_p4_fa, td_p4_ua], left=407.7, right=769.1, zero=692.7,
         ppu=4.235, band=(-356, -205), band_amp=(-14.5, 14.3), lab=(381.3, 615.0), role="mid"),
    dict(name="T6", series=[td_t6_ff, td_t6_uf, td_t6_fa, td_t6_ua], left=405.6, right=748.7, zero=826.3,
         ppu=4.235, band=(-244, -84), band_amp=(-22.1, 6.7), lab=(381.3, 773.8), role="bottom",
         axis_at=-21.7, tlab=(576.4, 953.0)),
    # ASD, left column
    dict(name="F3", series=[asd_f3_ff, asd_f3_uf, asd_f3_fa, asd_f3_ua], left=903.2, right=1202.6, zero=345.7,
         ppu=4.04, band=(-296, -113), band_amp=(-15.7, 17.5), lab=(848.1, 256.7), role="top", amp_off=45.8),
    dict(name="C3", series=[asd_c3_ff, asd_c3_uf, asd_c3_fa, asd_c3_ua], left=894.5, right=1205.4, zero=531.9,
         ppu=4.04, band=(-304, -127), band_amp=(-11.9, 18.3), lab=(868.6, 461.2), role="mid"),
    dict(name="P3", series=[asd_p3_ff, asd_p3_uf, asd_p3_fa, asd_p3_ua], left=887.4, right=1203.1, zero=697.0,
         ppu=4.04, band=(-280, -105), band_amp=(-13.9, 16.3), lab=(867.3, 612.9), role="mid"),
    dict(name="T5", series=[asd_t5_ff, asd_t5_uf, asd_t5_fa, asd_t5_ua], left=884.9, right=1200.6, zero=853.0,
         ppu=4.04, band=(-261, -87), band_amp=(-14.6, 15.8), lab=(881.2, 781.2), role="bottom",
         axis_at=-14.5, tlab=(1044.5, 958.0)),
    # ASD, right column (cut by the right edge)
    dict(name="F4", series=[asd_f4_ff, asd_f4_uf, asd_f4_fa, asd_f4_ua], left=1303.7, right=1603.5, zero=351.7,
         ppu=3.71, band=(-295, -111), band_amp=(-15.4, 20.7), lab=(1253.2, 267.9), role="top", amp_off=42.4),
    dict(name="C4", series=[asd_c4_ff, asd_c4_uf, asd_c4_fa, asd_c4_ua], left=1291.1, right=1590.9, zero=526.1,
         ppu=3.71, band=(-198, -14), band_amp=(-14.5, 18.4), lab=(1267.1, 462.0), role="mid"),
    dict(name="P4", series=[asd_p4_ff, asd_p4_uf, asd_p4_fa, asd_p4_ua], left=1275.6, right=1575.4, zero=689.8,
         ppu=3.71, band=(-79, 105), band_amp=(-17.3, 15.6), lab=(1271.3, 609.6), role="mid"),
    dict(name="T6", series=[asd_t6_ff, asd_t6_uf, asd_t6_fa, asd_t6_ua], left=1283.7, right=1598.1, zero=851.8,
         ppu=3.71, band=(-237, -62), band_amp=(-17.3, 16.4), lab=(1253.2, 784.7), role="bottom",
         axis_at=-17.2, tlab=(1442.8, 955.6)),
]


def fx(x):
    return x / W


def fy(y):
    return 1 - y / H


def panel_frame(series):
    parts = []
    for cond, values in zip(conditions, series):
        assert len(values) == len(time_ms), (cond, len(values))
        parts.append(pd.DataFrame({"time": time_ms, "amp": values, "condition": cond}))
    return pd.concat(parts, ignore_index=True)


# ---------------- drawing ----------------
sns.set_theme(style="white")
plt.rcParams["font.family"] = ["Liberation Serif", "DejaVu Serif"]
serif = "Liberation Serif"
sans = "Liberation Sans"
palette = dict(zip(conditions, colors))

fig = plt.figure(figsize=(30.24, 18.5), dpi=100)

for p in panels:
    left, right, zero, ppu = p["left"], p["right"], p["zero"], p["ppu"]
    ax = fig.add_axes([fx(left), fy(zero + YLIM * ppu), (right - left) / W, 2 * YLIM * ppu / H])
    ax.patch.set_visible(False)

    sns.lineplot(data=panel_frame(p["series"]), x="time", y="amp", hue="condition",
                 hue_order=conditions, palette=palette, estimator=None, legend=False,
                 linewidth=3.3, ax=ax)
    ax.fill_between(p["band"], p["band_amp"][0], p["band_amp"][1], color="#999999",
                    alpha=0.42, linewidth=0, zorder=5)
    ax.set_xlim(-2200, 100)
    ax.set_ylim(-YLIM, YLIM)
    ax.set_xlabel("")
    ax.set_ylabel("")
    for s in ax.spines.values():
        s.set_visible(False)
        s.set_color("black")

    if p["role"] == "top":
        ax.spines["left"].set_visible(True)
        ax.spines["left"].set_bounds(-20, 20)
        ax.spines["left"].set_linewidth(2)
        ax.set_yticks([20, 10, 0, -10, -20])
        ax.set_yticklabels(["20", "10", "0", "-10", "-20"], fontsize=22, family=serif)
        ax.tick_params(axis="y", left=True, direction="out", length=7, width=2, pad=11, colors="black")
        ax.set_xticks([])
        if "amp_off" in p:
            ax.text(-p["amp_off"] / (right - left), 0, "Amplitude", transform=ax.get_yaxis_transform(),
                    rotation=90, ha="center", va="center", fontsize=22, fontweight="bold", family=serif)
    elif p["role"] == "bottom":
        ax.spines["bottom"].set_visible(True)
        ax.spines["bottom"].set_position(("data", p["axis_at"]))
        ax.spines["bottom"].set_linewidth(2)
        ax.set_xticks([-2200, -1800, -1400, -1000, -600, -200])
        ax.set_xticklabels(["-2200", "-1800", "-1400", "-1000", "-600", "-200"], fontsize=22, family=serif)
        ax.tick_params(axis="x", bottom=True, length=0, pad=12, colors="black")
        ax.set_yticks([])
        fig.text(fx(p["tlab"][0]), fy(p["tlab"][1]), "Time (ms)", ha="center", va="baseline",
                 fontsize=24, fontweight="bold", family=serif)
    else:
        ax.set_xticks([])
        ax.set_yticks([])

    fig.text(fx(p["lab"][0]), fy(p["lab"][1]), p["name"], ha="left", va="baseline",
             fontsize=33, fontweight="bold", family=serif)

# group titles
fig.text(fx(397), fy(222), "TD", ha="center", va="baseline", fontsize=62, fontweight="bold", family=sans)
fig.text(fx(1240), fy(222), "ASD", ha="center", va="baseline", fontsize=62, fontweight="bold", family=sans)

# legend (text left, line right)
leg_text_base = [28.5, 87.3, 146.9, 206.5]
leg_line_y = [19.3, 80.7, 138.3, 199.6]
for cond, col, tb, ly in zip(conditions, colors, leg_text_base, leg_line_y):
    fig.text(fx(598.6), fy(tb), cond, ha="left", va="baseline", fontsize=34, family=sans)
    fig.add_artist(Line2D([fx(792.1), fx(985.6)], [fy(ly + 1.8), fy(ly + 1.8)], transform=fig.transFigure,
                          color="#888888", alpha=0.35, linewidth=6))
    fig.add_artist(Line2D([fx(792.1), fx(985.6)], [fy(ly), fy(ly)], transform=fig.transFigure,
                          color=col, linewidth=4))

# text cut off at the left edge of the original figure
fig.text(fx(20.7), fy(790.7), "Feedback", ha="right", va="baseline", fontsize=36, family=sans)
fig.text(fx(20.7), fy(871.0), "Baseline", ha="right", va="baseline", fontsize=36, family=sans)

fig.savefig("out.png", dpi=100)
